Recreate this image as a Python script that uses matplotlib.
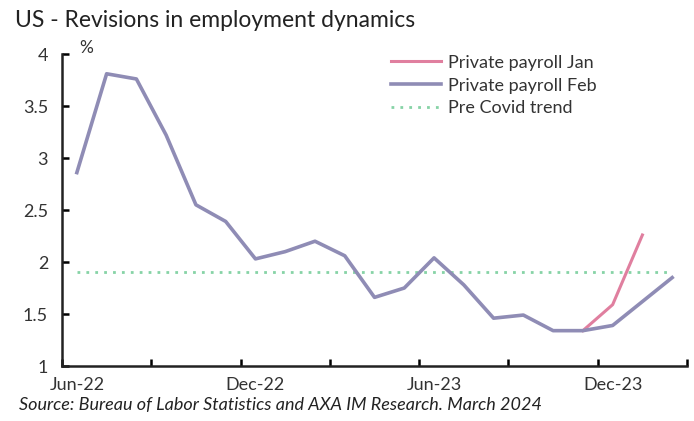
import matplotlib
matplotlib.use('Agg')
import matplotlib.pyplot as plt
from matplotlib.ticker import FixedLocator, NullFormatter

months = ['Jun-22', 'Jul-22', 'Aug-22', 'Sep-22', 'Oct-22', 'Nov-22', 'Dec-22',
          'Jan-23', 'Feb-23', 'Mar-23', 'Apr-23', 'May-23', 'Jun-23', 'Jul-23',
          'Aug-23', 'Sep-23', 'Oct-23', 'Nov-23', 'Dec-23', 'Jan-24', 'Feb-24']
payroll_feb = [2.86, 3.81, 3.76, 3.22, 2.55, 2.39, 2.03, 2.10, 2.20, 2.06, 1.66,
               1.75, 2.04, 1.78, 1.46, 1.49, 1.34, 1.34, 1.39, 1.62, 1.85]
payroll_jan = [None] * 17 + [1.34, 1.59, 2.26]
pre_covid = [1.90] * 21
shown_labels = ['Jun-22', 'Dec-22', 'Jun-23', 'Dec-23']

plt.rcParams['font.family'] = ['Lato', 'DejaVu Sans']

fig = plt.figure(figsize=(6.94, 4.21), dpi=100)
ax = fig.add_axes([0.0893, 0.1306, 0.9007, 0.7411])

x = list(range(len(months)))
jan_x = [i for i, v in enumerate(payroll_jan) if v is not None]
jan_y = [v for v in payroll_jan if v is not None]

ax.plot(x, pre_covid, color='#86d3a6', lw=2.0, ls=(0, (1, 2.2)), label='Pre Covid trend', zorder=2)
ax.plot(jan_x, jan_y, color='#e07f9f', lw=2.2, label='Private payroll Jan', zorder=3)
ax.plot(x, payroll_feb, color='#8f8cb5', lw=2.6, label='Private payroll Feb', zorder=4)

ax.set_xlim(-0.5, len(months) - 0.5)
ax.set_ylim(1, 4)
ax.set_yticks([1, 1.5, 2, 2.5, 3, 3.5, 4])
ax.set_yticklabels(['1', '1.5', '2', '2.5', '3', '3.5', '4'])

# category axis: tick marks every 3 months between categories, labels every 6
ax.xaxis.set_major_locator(FixedLocator([i - 0.5 for i in range(0, 22, 3)]))
ax.xaxis.set_major_formatter(NullFormatter())
ax.set_xticks([months.index(m) for m in shown_labels], minor=True)
ax.set_xticklabels(shown_labels, minor=True)
ax.tick_params(axis='x', which='major', direction='in', length=5, width=1.8)
ax.tick_params(axis='x', which='minor', length=0, pad=8, labelsize=13, labelcolor='#333333')
ax.tick_params(axis='y', direction='in', length=5, width=1.8, pad=10, labelsize=13,
               labelcolor='#333333')

for side in ['top', 'right']:
    ax.spines[side].set_visible(False)
for side in ['left', 'bottom']:
    ax.spines[side].set_linewidth(1.8)
    ax.spines[side].set_color('#222222')

handles, labels = ax.get_legend_handles_labels()
order = [1, 2, 0]
ax.legend([handles[i] for i in order], [labels[i] for i in order],
          loc='upper left', bbox_to_anchor=(0.50, 1.05), frameon=False,
          fontsize=13, handlelength=2.8, handletextpad=0.35, labelspacing=0.38,
          labelcolor='#333333')

fig.text(0.022, 0.952, 'US - Revisions in employment dynamics', fontsize=16.5,
         color='#222222', va='center', ha='left')
fig.text(0.114, 0.885, '%', fontsize=12.5, color='#333333', va='center', ha='left')
fig.text(0.028, 0.018, 'Source: Bureau of Labor Statistics and AXA IM Research. March 2024',
         fontsize=13, style='italic', color='#222222', va='bottom', ha='left')

fig.savefig('out.png', dpi=100)
